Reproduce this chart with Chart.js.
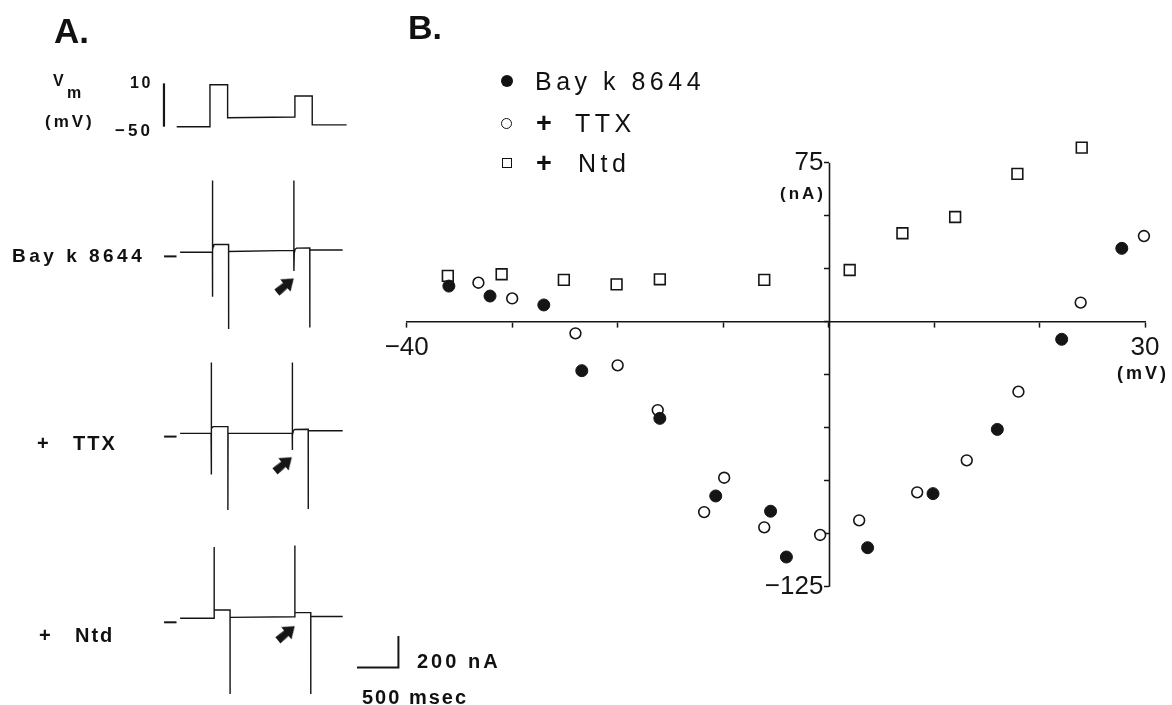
<!DOCTYPE html>
<html>
<head>
<meta charset="utf-8">
<script src="https://cdn.jsdelivr.net/npm/chart.js@4.4.1/dist/chart.umd.min.js"></script>
<style>
html, body { margin: 0; padding: 0; background: #fff; }
#page { position: relative; width: 1172px; height: 705px; overflow: hidden; font-family: 'Liberation Sans', Arial, sans-serif; color: #111; }
canvas { position: absolute; left: 0; top: 0; }
.t { position: absolute; white-space: pre; line-height: 1; }
.b { font-weight: bold; }
.mk { position: absolute; box-sizing: border-box; }
</style>
</head>
<body>
<div id="page">
  <canvas id="traceVm" width="510" height="705"></canvas>
  <canvas id="traceBay" width="510" height="705"></canvas>
  <canvas id="traceTtx" width="510" height="705"></canvas>
  <canvas id="traceNtd" width="510" height="705"></canvas>
  <canvas id="ivChart" width="1172" height="705"></canvas>

  <!-- panel A labels -->
  <div class="t b" style="left:54px;top:13px;font-size:35px;">A.</div>
  <div class="t b" style="left:53px;top:73px;font-size:16px;">V</div>
  <div class="t b" style="left:67px;top:85px;font-size:16px;">m</div>
  <div class="t b" style="left:45px;top:113px;font-size:17px;letter-spacing:3px;">(mV)</div>
  <div class="t b" style="left:130px;top:75px;font-size:16px;letter-spacing:2.5px;">10</div>
  <div class="t b" style="left:115px;top:122px;font-size:17px;letter-spacing:3px;">−50</div>
  <div class="t b" style="left:12px;top:246px;font-size:19px;letter-spacing:3.5px;">Bay k 8644</div>
  <div class="t b" style="left:37px;top:433px;font-size:20px;">+</div>
  <div class="t b" style="left:73px;top:433px;font-size:20px;letter-spacing:2px;">TTX</div>
  <div class="t b" style="left:39px;top:625px;font-size:20px;">+</div>
  <div class="t b" style="left:75px;top:625px;font-size:20px;letter-spacing:2px;">Ntd</div>
  <div class="t b" style="left:417px;top:651px;font-size:20px;letter-spacing:3px;">200 nA</div>
  <div class="t b" style="left:362px;top:687px;font-size:20px;letter-spacing:2px;">500 msec</div>

  <!-- panel B labels -->
  <div class="t b" style="left:408px;top:10px;font-size:34px;">B.</div>
  <div class="mk" style="left:500.7px;top:74.7px;width:12px;height:12px;border-radius:50%;background:#111;"></div>
  <div class="t" style="left:535px;top:69px;font-size:25px;letter-spacing:4.5px;">Bay k 8644</div>
  <div class="mk" style="left:501.2px;top:117.8px;width:11px;height:11px;border-radius:50%;border:1.5px solid #111;"></div>
  <div class="t b" style="left:536px;top:110px;font-size:27px;">+</div>
  <div class="t" style="left:575px;top:111px;font-size:25px;letter-spacing:4.5px;">TTX</div>
  <div class="mk" style="left:501.7px;top:157.7px;width:10px;height:10px;border:1.5px solid #111;"></div>
  <div class="t b" style="left:536px;top:150px;font-size:27px;">+</div>
  <div class="t" style="left:578px;top:151px;font-size:25px;letter-spacing:4.5px;">Ntd</div>
  <div class="t b" style="left:780px;top:185px;font-size:17px;letter-spacing:3px;">(nA)</div>
  <div class="t b" style="left:1117px;top:364px;font-size:18px;letter-spacing:3px;">(mV)</div>
</div>

<script>
// ---- Panel B: current-voltage relation ----
const bayVoltage = [-36.0, -32.1, -27.0, -23.4, -16.0, -10.7, -5.5, -4.0, 3.7, 9.9, 16.0, 22.1, 27.8];
const bayCurrent = [16.8, 12.1, 7.9, -23.1, -45.6, -82.2, -89.4, -111.0, -106.6, -81.1, -50.8, -8.3, 34.6];
const ttxVoltage = [-33.2, -30.0, -24.0, -20.0, -16.2, -11.8, -9.9, -6.1, -0.8, 2.9, 8.4, 13.1, 18.0, 23.9, 29.9];
const ttxCurrent = [18.4, 11.0, -5.5, -20.6, -41.7, -89.8, -73.6, -97.0, -100.6, -93.7, -80.5, -65.4, -33.0, 9.0, 40.4];
const ntdVoltage = [-36.1, -31.0, -25.1, -20.1, -16.0, -6.1, 2.0, 7.0, 12.0, 17.9, 24.0];
const ntdCurrent = [21.6, 22.4, 19.7, 17.6, 20.0, 19.7, 24.4, 41.7, 49.4, 69.7, 82.1];
const voltageRange = [-40, 30];      // x axis ends (mV)
const currentRange = [-125, 75];     // y axis ends (nA)

// ---- Panel A: voltage protocol and current records, [time ms, value] ----
const vmTrace = [[0, -50], [384, -50], [384, 8], [588, 8], [588, -37.5], [1365, -36.5], [1365, -7.5], [1565, -7.5], [1565, -47.5], [1962, -47.5]];
const vmScaleBar = [[-147, -50], [-147, 10]];
const bayTrace = [[0, 26], [390, 27], [391, 479], [392, -255], [393, 40], [398, 62], [405, 72], [415, 75], [585, 75], [585, -459], [587, 31],
  [1372, 38], [1373, 479], [1374, -92], [1378, 20], [1388, 45], [1405, 52], [1565, 53], [1565, -449], [1567, 40], [1962, 40]];
const ttxTrace = [[0, 20], [374, 20], [375, 468], [376, -239], [377, 30], [383, 50], [392, 60], [402, 63], [577, 63], [577, -463], [579, 20],
  [1353, 22], [1354, 468], [1355, -84], [1358, 10], [1368, 38], [1385, 45], [1546, 46], [1546, -457], [1548, 37], [1962, 37]];
const ntdTrace = [[0, 26], [411, 26], [411, 475], [412, 78], [603, 78], [603, -520], [604, 31],
  [1385, 35], [1385, 485], [1386, 61], [1577, 61], [1577, -520], [1578, 37], [1962, 37]];
const zeroMark = [[-193, 0], [-43, 0]];
const currentScaleBar = [[2135, -286], [2635, -286], [2635, -86]];   // 500 msec, 200 nA
const bayArrow = [1261, -188];
const ttxArrow = [1238, -179];
const ntdArrow = [1273, -73];

Chart.defaults.font.family = "'Liberation Sans', Arial, sans-serif";
Chart.defaults.color = '#111';
const INK = '#151515';

// layout of panel A (pixels)
const T0_PX = 176.7, PX_PER_MS = 43.3 / 500, A_W = 510, A_H = 705;

function pts(arr) { return arr.map(p => ({ x: p[0], y: p[1] })); }

function lineSet(arr, width) {
    return { data: pts(arr), showLine: true, borderColor: INK, borderWidth: width, pointRadius: 0, tension: 0, fill: false };
}

function arrowImage() {
    const c = document.createElement('canvas');
    c.width = 26; c.height = 26;
    const g = c.getContext('2d');
    g.translate(13, 13);
    g.fillStyle = INK;
    g.beginPath();
    g.moveTo(12, 0); g.lineTo(1, -8); g.lineTo(1, -3.5); g.lineTo(-10, -4);
    g.lineTo(-10, 4); g.lineTo(1, 3.5); g.lineTo(1, 8); g.closePath();
    g.fill();
    return c;
}
const arrowImg = arrowImage();

function arrowSet(p) {
    return { data: pts([p]), pointStyle: arrowImg, pointRadius: 10, rotation: -40, showLine: false };
}

function traceChart(id, zeroPx, pxPerUnit, datasets) {
    return new Chart(document.getElementById(id), {
        type: 'scatter',
        data: { datasets },
        options: {
            responsive: false, animation: false, devicePixelRatio: 1,
            layout: { padding: 0 },
            plugins: { legend: { display: false }, tooltip: { enabled: false } },
            scales: {
                x: { type: 'linear', display: false, min: -T0_PX / PX_PER_MS, max: (A_W - T0_PX) / PX_PER_MS },
                y: { type: 'linear', display: false, min: -(A_H - zeroPx) / pxPerUnit, max: zeroPx / pxPerUnit }
            }
        }
    });
}

// voltage row: -50 mV sits at y=126.7, 0.722 px per mV
traceChart('traceVm', 126.7 - 50 * 0.722, 0.722, [lineSet(vmTrace, 1.4), lineSet(vmScaleBar, 2.2)]);
// current rows: 200 nA = 32.7 px
const PX_PER_NA = 32.7 / 200;
traceChart('traceBay', 253.3, PX_PER_NA, [lineSet(bayTrace, 1.4), lineSet(zeroMark, 2), arrowSet(bayArrow)]);
traceChart('traceTtx', 439.3, PX_PER_NA, [lineSet(ttxTrace, 1.4), lineSet(zeroMark, 2), arrowSet(ttxArrow)]);
traceChart('traceNtd', 631, PX_PER_NA, [lineSet(ntdTrace, 1.4), lineSet(zeroMark, 2), lineSet(currentScaleBar, 2), arrowSet(ntdArrow)]);

// ---- panel B ----
function zip(xs, ys) { return xs.map((x, i) => ({ x, y: ys[i] })); }
function fmt(v) { return v < 0 ? '\u2212' + Math.abs(v) : String(v); }

// y axis line only between the labelled ends (the chart area runs a bit higher)
const yAxisLine = {
    id: 'yAxisLine',
    beforeDatasetsDraw(chart) {
        const { ctx, scales: { x, y } } = chart;
        const px = Math.round(x.getPixelForValue(0)) + 0.5;
        ctx.save();
        ctx.strokeStyle = INK; ctx.lineWidth = 1.6;
        ctx.beginPath();
        ctx.moveTo(px, y.getPixelForValue(currentRange[1]));
        ctx.lineTo(px, y.getPixelForValue(currentRange[0]));
        ctx.stroke();
        ctx.restore();
    }
};

const Y_TOP_EXTRA = 95;   // headroom so the highest square is not clipped
new Chart(document.getElementById('ivChart'), {
    type: 'scatter',
    data: {
        datasets: [
            { label: 'Bay k 8644', data: zip(bayVoltage, bayCurrent), pointStyle: 'circle', pointRadius: 6, backgroundColor: INK, borderColor: INK, borderWidth: 1, order: 1, clip: false },
            { label: '+ TTX', data: zip(ttxVoltage, ttxCurrent), pointStyle: 'circle', pointRadius: 5.4, backgroundColor: '#fff', borderColor: INK, borderWidth: 1.6, order: 2, clip: false },
            { label: '+ Ntd', data: zip(ntdVoltage, ntdCurrent), pointStyle: 'rect', pointRadius: 7.6, backgroundColor: '#fff', borderColor: INK, borderWidth: 1.6, order: 3, clip: false }
        ]
    },
    options: {
        responsive: false, animation: false, devicePixelRatio: 1,
        layout: { padding: { left: 406.7, right: 27, top: 321.7 - Y_TOP_EXTRA * 2.12, bottom: 118.3 } },
        plugins: { legend: { display: false }, tooltip: { enabled: false } },
        scales: {
            x: {
                type: 'linear', min: voltageRange[0], max: voltageRange[1], position: { y: 0 },
                afterFit: s => { s.height = 0; },
                ticks: { stepSize: 10, autoSkip: false, maxRotation: 0, padding: 6, font: { size: 26 }, color: INK,
                    callback: v => (v === voltageRange[0] || v === voltageRange[1]) ? fmt(v) : '' },
                grid: { drawOnChartArea: false, drawTicks: true, tickLength: 5, tickWidth: 1.5, tickColor: INK },
                border: { display: true, color: INK, width: 1.6 }
            },
            y: {
                type: 'linear', min: currentRange[0], max: Y_TOP_EXTRA, position: { x: 0 },
                afterFit: s => { s.width = 0; },
                afterBuildTicks: s => { s.ticks = s.ticks.filter(t => t.value <= currentRange[1]); },
                // label sits right against the axis here, so a thin space keeps it clear of the tick
                ticks: { stepSize: 25, autoSkip: false, padding: 4, font: { size: 26 }, color: INK,
                    callback: v => (v === currentRange[0] || v === currentRange[1]) ? fmt(v) + '\u2009' : '' },
                grid: { drawOnChartArea: false, drawTicks: true, tickLength: 5, tickWidth: 1.5, tickColor: INK },
                border: { display: false }
            }
        }
    },
    plugins: [yAxisLine]
});
</script>
</body>
</html>
